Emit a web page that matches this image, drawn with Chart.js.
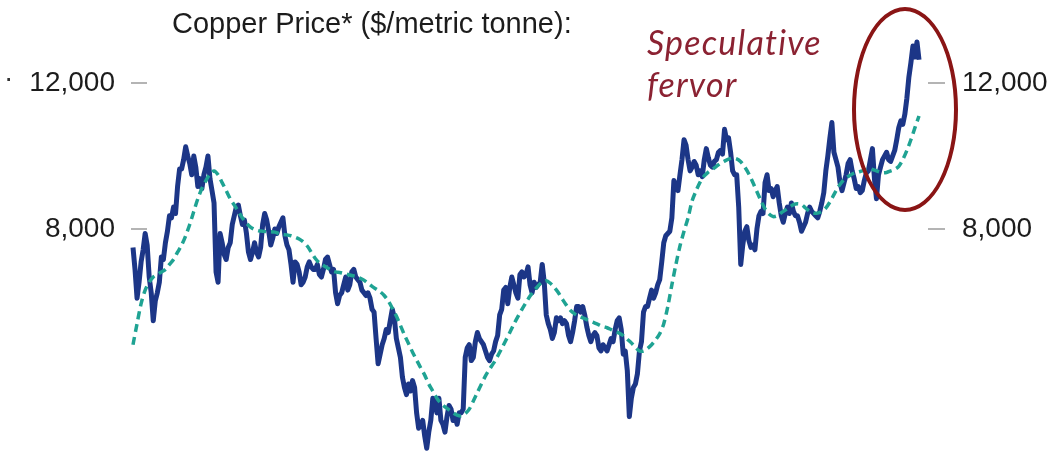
<!DOCTYPE html>
<html>
<head>
<meta charset="utf-8">
<script src="https://cdn.jsdelivr.net/npm/chart.js@4.4.1/dist/chart.umd.min.js"></script>
<style>
html,body{margin:0;padding:0;background:#fff;}
#wrap{position:relative;width:1056px;height:453px;overflow:hidden;background:#fff;}
#c{position:absolute;left:0;top:0;}
#title{position:absolute;left:172px;top:7px;font:29px "Liberation Sans",Arial,sans-serif;color:#1c1c1c;white-space:nowrap;}
#dot{position:absolute;left:4px;top:62px;font:28px "Liberation Sans",Arial,sans-serif;color:#333;}
#note{position:absolute;left:647px;top:21px;font:italic 34px Lato,"Open Sans",sans-serif;color:#8b2232;line-height:42px;letter-spacing:1.2px;white-space:nowrap;}
#ring{position:absolute;left:852px;top:7px;width:98px;height:197px;border:4px solid #8a1515;border-radius:50%;}
</style>
</head>
<body>
<div id="wrap">
<canvas id="c" width="1056" height="453"></canvas>
<div id="title">Copper Price* ($/metric tonne):</div>
<div id="dot">·</div>
<div id="note">Speculative<br>fervor</div>
<div id="ring"></div>
</div>
<script>
// ---- Data ----
const START_YEAR = 2010;
const tickValues = [8000, 12000];

// copper price, two readings per month (first and second half)
const price2010 = [7600,7150, 6600,6900, 7300,7550, 7900,7650, 7000,6700, 6200,6550, 6700,6900, 7400,7350, 7700,7950, 8300,8250, 8500,8350, 9000,9450];
const price2011 = [9450,9700, 10050,9800, 9600,9300, 9800,9500, 9000,9200, 8950,9300, 9500,9800, 9200,8900, 8600,7100, 6900,7900, 7700,7450, 7350,7600];
const price2012 = [7700,8100, 8300,8500, 8550,8300, 8100,8200, 7900,7500, 7350,7500, 7700,7500, 7400,7600, 8100,8350, 8200,7950, 7650,7800, 8000,7900];
const price2013 = [8050,8150, 8250,7850, 7650,7550, 7250,6900, 7300,7250, 7100,6850, 6900,7000, 7200,7300, 7200,7150, 7150,7250, 7050,7000, 7150,7350];
const price2014 = [7400,7250, 7100,7150, 6700,6500, 6650,6700, 6850,7000, 6750,6850, 7100,7150, 7000,6950, 6900,6750, 6700,6650, 6700,6600, 6400,6350];
const price2015 = [5900,5500, 5650,5800, 5900,6050, 6000,6200, 6400,6250, 5900,5750, 5600,5300, 5150,5050, 5200,5100, 5250,5150, 4800,4600, 4650,4700];
const price2016 = [4500,4350, 4550,4700, 5000,4950, 4800,5000, 4700,4650, 4550,4750, 4900,4850, 4700,4750, 4650,4800, 4800,4850, 5600,5750, 5800,5550];
const price2017 = [5600,5850, 6000,5900, 5850,5800, 5700,5600, 5550,5650, 5700,5850, 5950,6300, 6400,6750, 6800,6500, 6800,7000, 6850,6700, 6600,7050];
const price2018 = [7100,7000, 7050,7200, 6850,6700, 6900,6800, 6850,6900, 7250,6900, 6300,6150, 6050,5900, 6000,6250, 6200,6250, 6150,6200, 6150,5950];
const price2019 = [5850,6000, 6200,6450, 6450,6350, 6450,6300, 6100,5950, 5850,5950, 6000,5950, 5750,5700, 5800,5750, 5700,5800, 5900,5850, 6050,6200];
const price2020 = [6250,6050, 5650,5700, 5400,4750, 5000,5150, 5200,5350, 5700,5850, 6350,6450, 6450,6600, 6750,6600, 6700,6850, 6950,7300, 7700,7850];
const price2021 = [7900,7950, 8250,9150, 9000,8900, 9300,9700, 10250,10100, 9700,9400, 9500,9650, 9550,9300, 9400,9250, 9700,10000, 9750,9550, 9500,9650];
const price2022 = [9700,9900, 9950,9850, 10550,10250, 10300,9900, 9400,9300, 9300,8500, 7250,7650, 7950,8050, 7750,7600, 7650,7550, 8000,8300, 8400,8350];
const price2023 = [9100,9300, 8900,8950, 8750,8900, 9000,8600, 8300,8150, 8350,8500, 8350,8600, 8400,8300, 8300,8150, 7950,8050, 8150,8350, 8500,8400];
const price2024 = [8350,8300, 8250,8400, 8600,8850, 9400,9800, 10300,10750, 9900,9700, 9500,9100, 8900,9100, 9300,9600, 9700,9400, 9200,8950, 9000,8850];
const price2025 = [8900,9150, 9350,9400, 9700,10000, 9200,8700, 9300,9500, 9700,9800, 9900,9700, 9650,9800, 9950,10250, 10600,10800, 10700,11000, 11500,12200];
const price2026 = [12700,13300, 12900,13450, 12800];

// moving average (dashed), one reading per month
const ma2010 = [5800,6150,6500,6750,6900,7000,7050,7100,7150,7250,7350,7500];
const ma2011 = [7650,7850,8100,8400,8700,8950,9150,9320,9400,9300,9100,8900];
const ma2012 = [8700,8550,8400,8250,8130,8040,7990,7960,7950,7940,7940,7930];
const ma2013 = [7900,7880,7870,7850,7820,7780,7720,7630,7500,7370,7280,7230];
const ma2014 = [7180,7130,7100,7090,7070,7050,7030,7010,6980,6940,6880,6820];
const ma2015 = [6770,6720,6650,6550,6420,6280,6120,5960,5820,5680,5560,5440];
const ma2016 = [5330,5200,5100,5000,4930,4880,4840,4800,4770,4760,4790,4850];
const ma2017 = [4960,5080,5200,5320,5420,5510,5620,5740,5870,6000,6140,6270];
const ma2018 = [6400,6520,6640,6740,6830,6900,6930,6880,6800,6700,6580,6470];
const ma2019 = [6380,6320,6280,6250,6220,6190,6160,6130,6100,6080,6050,6020];
const ma2020 = [5990,5950,5890,5830,5760,5700,5700,5740,5800,5880,5980,6150];
const ma2021 = [6450,6850,7250,7630,7950,8250,8650,8900,9120,9270,9370,9440];
const ma2022 = [9520,9600,9660,9710,9740,9720,9640,9500,9320,9100,8870,8650];
const ma2023 = [8460,8340,8280,8300,8370,8430,8500,8560,8580,8560,8480,8400];
const ma2024 = [8360,8360,8400,8480,8620,8800,8980,9120,9220,9290,9340,9370];
const ma2025 = [9400,9440,9450,9420,9380,9350,9360,9400,9440,9520,9700,9950];
const ma2026 = [10250,10600,10950];

const priceSeries = [].concat(price2010,price2011,price2012,price2013,price2014,price2015,price2016,price2017,
  price2018,price2019,price2020,price2021,price2022,price2023,price2024,price2025,price2026);
const maSeries = [].concat(ma2010,ma2011,ma2012,ma2013,ma2014,ma2015,ma2016,ma2017,
  ma2018,ma2019,ma2020,ma2021,ma2022,ma2023,ma2024,ma2025,ma2026);

const priceData = priceSeries.map((v,i)=>({x: START_YEAR + i/24, y: v}));
const maData = maSeries.map((v,i)=>({x: START_YEAR + i/12, y: v}));

const labelFont = {family:"'Liberation Sans', Arial, sans-serif", size:28};

const tickMarks = {
  id:'tickMarks',
  beforeDatasetsDraw(chart){
    const ctx = chart.ctx, ys = chart.scales.y, a = chart.chartArea;
    ctx.save();
    ctx.strokeStyle = '#b4b4b4';
    ctx.lineWidth = 2;
    ys.ticks.forEach(t=>{
      const py = Math.round(ys.getPixelForValue(t.value));
      ctx.beginPath();
      ctx.moveTo(a.left-2, py); ctx.lineTo(a.left+14, py);
      ctx.moveTo(a.right+8, py); ctx.lineTo(a.right+25, py);
      ctx.stroke();
    });
    ctx.restore();
  }
};

function yAxis(position, width, pad){
  return {
    type:'logarithmic', position: position,
    min: 4293.5, max: 14295,
    afterBuildTicks: s => { s.ticks = tickValues.map(v=>({value:v})); },
    afterFit: s => { s.width = width; s.paddingTop = 0; s.paddingBottom = 0; },
    ticks:{ callback: v => Number(v).toLocaleString('en-US'), font: labelFont, color:'#1c1c1c', padding: pad, autoSkip:false },
    grid:{ display:false, drawTicks:false },
    border:{ display:false }
  };
}

new Chart(document.getElementById('c'), {
  type:'line',
  data:{ datasets:[
    { label:'Copper price', data: priceData, yAxisID:'y', borderColor:'#1c3687', borderWidth:5,
      borderJoinStyle:'round', pointRadius:0, tension:0, order:1, clip:false },
    { label:'Moving average', data: maData, yAxisID:'y', borderColor:'#1fa393', borderWidth:3.5,
      borderDash:[8,5], pointRadius:0, tension:0.3, order:0, clip:false }
  ]},
  options:{
    responsive:false, animation:false, devicePixelRatio:1,
    layout:{ padding:{ top:20, bottom:0, left:0, right:0 } },
    plugins:{ legend:{display:false}, tooltip:{enabled:false}, title:{display:false} },
    scales:{
      x:{ type:'linear', display:false, min: START_YEAR, max: 2026.187 },
      y: yAxis('left', 133, 18),
      y2: yAxis('right', 136, 42)
    }
  },
  plugins:[tickMarks]
});
</script>
</body>
</html>
